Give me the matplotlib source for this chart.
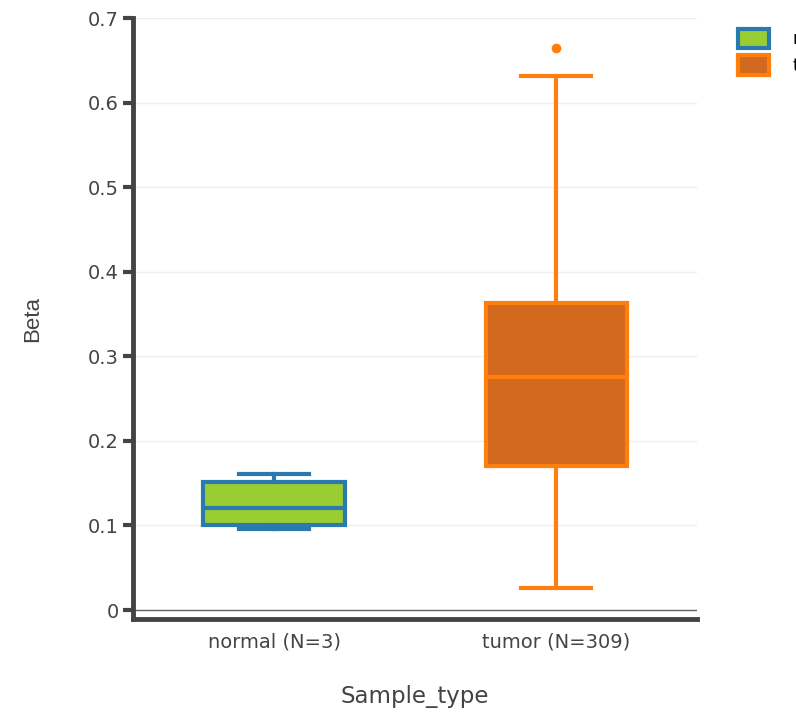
import matplotlib.pyplot as plt
from matplotlib.patches import Patch

# values
groups = ['normal', 'tumor']
tick_labels = ['normal (N=3)', 'tumor (N=309)']
whislo = [0.096, 0.026]
q1 = [0.100, 0.170]
med = [0.121, 0.275]
q3 = [0.151, 0.363]
whishi = [0.161, 0.632]
outliers = [[], [0.665]]

fills = ['#9acd32', '#d2691e']
edges = ['#2a7ab0', '#ff7f0e']

fig = plt.figure(figsize=(7.96, 7.12), dpi=100)
ax = fig.add_axes([0.167, 0.1306, 0.709, 0.844])

stats = []
for i in range(len(groups)):
    stats.append(dict(label=tick_labels[i], whislo=whislo[i], q1=q1[i], med=med[i],
                      q3=q3[i], whishi=whishi[i], fliers=outliers[i]))

for i, st in enumerate(stats):
    ax.bxp([st], positions=[i], widths=0.5, patch_artist=True, showfliers=True,
           boxprops=dict(facecolor=fills[i], edgecolor=edges[i], linewidth=3),
           medianprops=dict(color=edges[i], linewidth=3),
           whiskerprops=dict(color=edges[i], linewidth=3),
           capprops=dict(color=edges[i], linewidth=3),
           capwidths=0.25,
           flierprops=dict(marker='o', markerfacecolor=edges[i], markeredgecolor=edges[i],
                           markersize=6))

ax.set_xlim(-0.5, 1.5)
ax.set_ylim(-0.0106, 0.7)
ax.set_xticks(range(len(groups)))
ax.set_xticklabels(tick_labels)
ax.set_yticks([0, 0.1, 0.2, 0.3, 0.4, 0.5, 0.6, 0.7])
ax.set_yticklabels(['0', '0.1', '0.2', '0.3', '0.4', '0.5', '0.6', '0.7'])

ax.yaxis.grid(True, color='#eeeeee', linewidth=1)
ax.set_axisbelow(True)
ax.axhline(0, color='#666666', linewidth=1, zorder=1)

for s in ['top', 'right']:
    ax.spines[s].set_visible(False)
for s in ['left', 'bottom']:
    ax.spines[s].set_linewidth(3.5)
    ax.spines[s].set_color('#444444')
ax.tick_params(axis='y', length=7, width=3, color='#444444', labelsize=14,
               labelcolor='#444444', pad=3)
ax.tick_params(axis='x', length=0, labelsize=14, labelcolor='#444444', pad=10)

ax.set_xlabel('Sample_type', fontsize=16.5, color='#444444', labelpad=24)
ax.set_ylabel('Beta', fontsize=16, color='#444444', family='Liberation Sans', labelpad=32)

handles = [Patch(facecolor=fills[i], edgecolor=edges[i], linewidth=3) for i in range(len(groups))]
fig.legend(handles, groups, loc='upper left', bbox_to_anchor=(731 / 796, 1 - 22 / 712),
           frameon=False, fontsize=12, handlelength=1.85, handleheight=1.4,
           labelspacing=0.45, handletextpad=1.45, borderaxespad=0)

fig.savefig('out.png', dpi=100)
